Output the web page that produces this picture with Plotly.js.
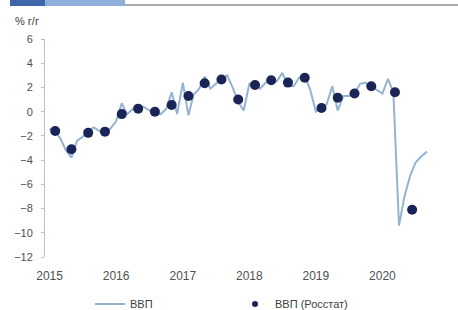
<!DOCTYPE html>
<html>
<head>
<meta charset="utf-8">
<script src="https://cdn.plot.ly/plotly-3.0.1.min.js"></script>
<style>
html,body{margin:0;padding:0;background:#fff;}
#chart{width:458px;height:310px;}
</style>
</head>
<body>
<div id="chart"></div>
<script>
// Monthly GDP estimate (% y/y), Jan 2015 .. Sep 2020
var monthStart = "2015-01";
var gdpMonthly = [
  -1.4, -1.6, -2.2, -3.2, -3.8, -2.4, -2.1, -1.6, -1.3, -1.6, -1.7, -1.4,
  -0.8,  0.7, -0.2,  0.2,  0.3,  0.4,  0.1, -0.1, -0.2,  0.2,  1.6, -0.2,
   2.4, -0.3,  1.4,  1.9,  2.9,  1.9,  2.3,  2.7,  3.0,  2.0,  0.8,  0.1,
   2.3,  2.4,  1.9,  2.4,  2.6,  2.5,  3.2,  2.2,  2.1,  2.8,  3.0,  1.8,
   0.0,  0.3,  0.6,  2.1,  0.1,  1.3,  1.3,  1.5,  2.3,  2.4,  2.0,  1.8,
   1.5,  2.7,  1.6, -9.4, -7.0, -5.3, -4.2, -3.7, -3.3
];
// Quarterly Rosstat GDP (% y/y)
var rosstatDates = [
  "2015-02-01","2015-05-01","2015-08-01","2015-11-01",
  "2016-02-01","2016-05-01","2016-08-01","2016-11-01",
  "2017-02-01","2017-05-01","2017-08-01","2017-11-01",
  "2018-02-01","2018-05-01","2018-08-01","2018-11-01",
  "2019-02-01","2019-05-01","2019-08-01","2019-11-01",
  "2020-03-10","2020-06-12"
];
var rosstatValues = [
  -1.6, -3.1, -1.75, -1.65,
  -0.2, 0.25, 0.0, 0.55,
   1.3, 2.35, 2.65, 1.0,
   2.2, 2.6, 2.4, 2.8,
   0.3, 1.15, 1.5, 2.1,
   1.6, -8.1
];
var yearTicks = ["2015","2016","2017","2018","2019","2020"];
var seriesNames = ["ВВП", "ВВП (Росстат)"];
var yTitle = "% г/г";

// build monthly dates
var monthlyDates = [];
(function(){
  var y = parseInt(monthStart.slice(0,4),10), m = parseInt(monthStart.slice(5,7),10);
  for (var i = 0; i < gdpMonthly.length; i++) {
    monthlyDates.push(y + "-" + (m < 10 ? "0" + m : m) + "-01");
    m++; if (m > 12) { m = 1; y++; }
  }
})();

var xRange = ["2014-12-07", "2020-11-01"];
var fontFam = "Liberation Sans, Arial, sans-serif";
var lineColor = "#93b3d2", dotColor = "#1a2456";

var traces = [
  {
    type: "scatter", mode: "lines", name: seriesNames[0],
    x: monthlyDates, y: gdpMonthly,
    line: {color: lineColor, width: 2},
    legend: "legend"
  },
  {
    type: "scatter", mode: "markers", name: seriesNames[1],
    x: rosstatDates, y: rosstatValues,
    marker: {color: dotColor, size: 10},
    showlegend: false
  },
  // legend entry with a smaller dot, as in the original
  {
    type: "scatter", mode: "markers", name: seriesNames[1],
    x: [null], y: [null],
    marker: {color: dotColor, size: 6},
    legend: "legend2", hoverinfo: "skip"
  }
];

var legendCommon = {
  xref: "container", yref: "container", xanchor: "left",
  y: 6/310, yanchor: "middle", orientation: "h",
  bgcolor: "rgba(0,0,0,0)", borderwidth: 0,
  font: {family: fontFam, size: 11, color: "#404040"}
};

var layout = {
  width: 458, height: 310,
  margin: {l: 45, r: 20, t: 39, b: 53, pad: 0},
  paper_bgcolor: "#ffffff", plot_bgcolor: "#ffffff",
  font: {family: fontFam, color: "#505050", size: 11},
  title: {
    text: yTitle, x: 15/458, xanchor: "left", xref: "container",
    y: 1 - 21/310, yanchor: "middle", yref: "container",
    font: {family: fontFam, size: 11, color: "#404040"}
  },
  xaxis: {
    type: "date", range: xRange,
    tick0: "2015-01-01", dtick: "M12", tickformat: "%Y",
    showgrid: false, zeroline: false, showline: false, ticks: "",
    tickfont: {family: fontFam, size: 12, color: "#505050"},
    ticklabelstandoff: 10
  },
  xaxis2: {
    type: "date", range: xRange, overlaying: "x", anchor: "free", position: 12/18,
    tick0: "2015-01-01", dtick: "M12",
    showgrid: false, zeroline: false, showline: true, linecolor: "#c3c6cc", linewidth: 1,
    ticks: "outside", ticklen: 3, tickcolor: "#c3c6cc", showticklabels: false
  },
  yaxis: {
    range: [-12, 6], dtick: 2, tick0: 0,
    showgrid: false, zeroline: false,
    showline: true, linecolor: "#c0c0c0", linewidth: 1,
    ticks: "outside", ticklen: 3, tickcolor: "#c0c0c0",
    tickfont: {family: fontFam, size: 11, color: "#505050"},
    ticklabelstandoff: 6
  },
  showlegend: true,
  legend: Object.assign({}, legendCommon, {x: 90/458}),
  legend2: Object.assign({}, legendCommon, {x: 235/458}),
  shapes: [
    {type: "rect", xref: "paper", yref: "paper",
     x0: (10-45)/393, x1: (125-45)/393, y0: 1 + (39-6)/218, y1: 1 + 39/218,
     fillcolor: "#8eaedb", line: {width: 0}, layer: "above"},
    {type: "rect", xref: "paper", yref: "paper",
     x0: (10-45)/393, x1: (45-45)/393, y0: 1 + (39-6)/218, y1: 1 + 39/218,
     fillcolor: "#3f66a8", line: {width: 0}, layer: "above"},
    {type: "line", xref: "paper", yref: "paper",
     x0: (125-45)/393, x1: (458-45)/393, y0: 1 + (39-5)/218, y1: 1 + (39-5)/218,
     line: {color: "#a9a9a9", width: 2}, layer: "above"}
  ]
};

Plotly.newPlot("chart", traces, layout, {displayModeBar: false, staticPlot: true});
</script>
</body>
</html>
